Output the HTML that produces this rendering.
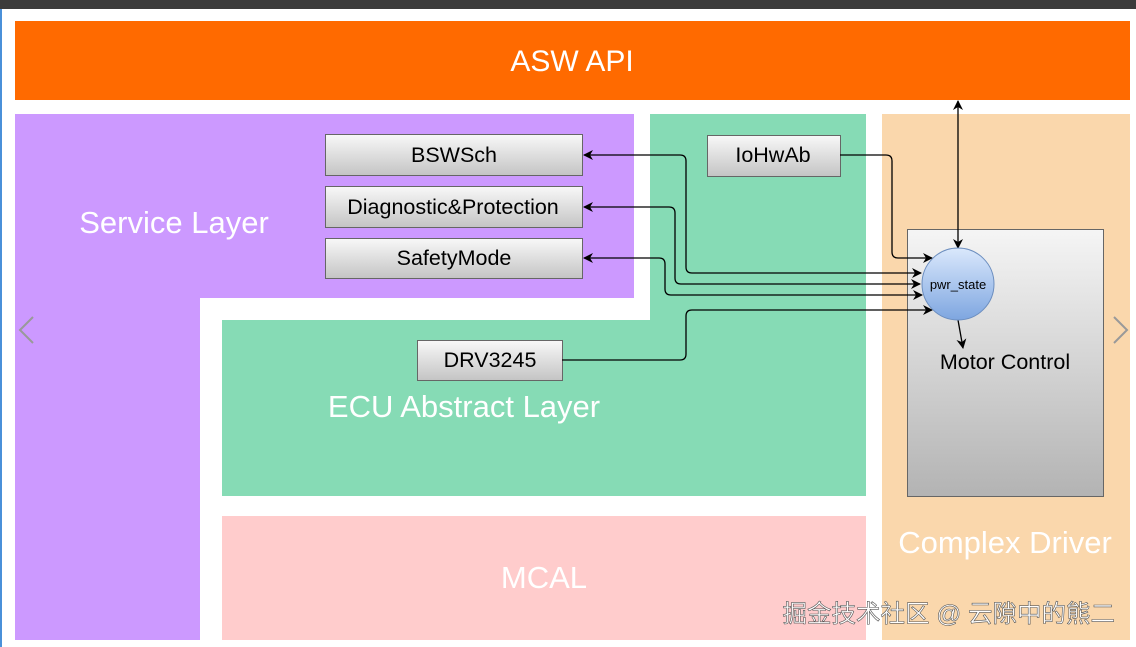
<!DOCTYPE html>
<html><head><meta charset="utf-8"><style>
html,body{margin:0;padding:0;width:1136px;height:647px;overflow:hidden;background:#fff;}
svg{display:block;font-family:"Liberation Sans",sans-serif;}
</style></head><body>
<svg width="1136" height="647" viewBox="0 0 1136 647" xmlns="http://www.w3.org/2000/svg">
<defs>
<linearGradient id="bg" x1="0" y1="0" x2="0" y2="1"><stop offset="0" stop-color="#f8f8f8"/><stop offset="1" stop-color="#c4c4c4"/></linearGradient>
<linearGradient id="mg" x1="0" y1="0" x2="0" y2="1"><stop offset="0" stop-color="#f5f5f5"/><stop offset="1" stop-color="#b3b3b3"/></linearGradient>
<linearGradient id="cg" x1="0" y1="0" x2="0" y2="1"><stop offset="0" stop-color="#dae8fc"/><stop offset="1" stop-color="#7ea6e0"/></linearGradient>
<marker id="ar" markerWidth="10" markerHeight="10" refX="9" refY="5" orient="auto-start-reverse" markerUnits="userSpaceOnUse"><path d="M0,0 L10,5 L0,10 L3,5 z" fill="#000"/></marker>
</defs>
<rect x="0" y="0" width="1136" height="9" fill="#3b3b3b"/>
<rect x="0" y="9" width="2" height="638" fill="#4a90d9"/>
<rect x="15" y="21" width="1115" height="79" fill="#ff6a00"/>
<text x="572" y="71" fill="#fff" font-size="30" text-anchor="middle">ASW API</text>
<path d="M15,114 H634 V298 H200 V640 H15 Z" fill="#cc99ff"/>
<text x="174" y="233" fill="#fff" font-size="31" text-anchor="middle">Service Layer</text>
<path d="M650,114 H866 V496 H222 V320 H650 Z" fill="#86dbb5"/>
<text x="464" y="417" fill="#fff" font-size="31" text-anchor="middle">ECU Abstract Layer</text>
<rect x="222" y="516" width="644" height="124" fill="#ffcccc"/>
<text x="544" y="588" fill="#fff" font-size="31" text-anchor="middle">MCAL</text>
<rect x="882" y="114" width="248" height="526" fill="#fad7ac"/>
<text x="1005" y="553" fill="#fff" font-size="31" text-anchor="middle">Complex Driver</text>
<rect x="907.5" y="229.5" width="196" height="267" fill="url(#mg)" stroke="#666"/>
<text x="1005" y="369" fill="#000" font-size="21.5" text-anchor="middle">Motor Control</text>
<g stroke="#666" fill="url(#bg)">
<rect x="325.5" y="134.5" width="257" height="41"/>
<rect x="325.5" y="186.5" width="257" height="41"/>
<rect x="325.5" y="238.5" width="257" height="40"/>
<rect x="707.5" y="135.5" width="133" height="41"/>
<rect x="417.5" y="340.5" width="145" height="40"/>
</g>
<g font-size="21.5" fill="#000" text-anchor="middle">
<text x="454" y="162">BSWSch</text>
<text x="453" y="214">Diagnostic&amp;Protection</text>
<text x="454" y="265">SafetyMode</text>
<text x="773" y="162">IoHwAb</text>
<text x="490" y="367">DRV3245</text>
</g>
<g fill="none" stroke="#000" stroke-width="1.3">
<path d="M921,273 H692 Q686,273 686,267 V161 Q686,155 680,155 H584" marker-start="url(#ar)" marker-end="url(#ar)"/>
<path d="M920,284 H681 Q675,284 675,278 V213 Q675,207 669,207 H584" marker-start="url(#ar)" marker-end="url(#ar)"/>
<path d="M922,295 H671 Q665,295 665,289 V264 Q665,258 659,258 H584" marker-start="url(#ar)" marker-end="url(#ar)"/>
<path d="M562,360 H680 Q686,360 686,354 V316 Q686,310 692,310 H932" marker-end="url(#ar)"/>
<path d="M840,155 H886 Q892,155 892,161 V252 Q892,258 898,258 H932" marker-end="url(#ar)"/>
<path d="M958,101 V248" marker-start="url(#ar)" marker-end="url(#ar)"/>
<path d="M958,320 L963,348" marker-end="url(#ar)"/>
</g>
<circle cx="958" cy="284" r="36" fill="url(#cg)" stroke="#6c8ebf"/>
<text x="958" y="289" font-size="13" text-anchor="middle" fill="#000">pwr_state</text>
<path d="M33,317 L20,330 L33,343" fill="none" stroke="#999" stroke-width="2"/>
<path d="M1114,317 L1127,330 L1114,343" fill="none" stroke="#999" stroke-width="2"/>
<text x="1115" y="622" font-size="24.5" text-anchor="end" fill="#fff" stroke="#555" stroke-width="0.6" font-family="'Liberation Sans','Noto Sans CJK SC',sans-serif">掘金技术社区 @ 云隙中的熊二</text>
</svg>
</body></html>
